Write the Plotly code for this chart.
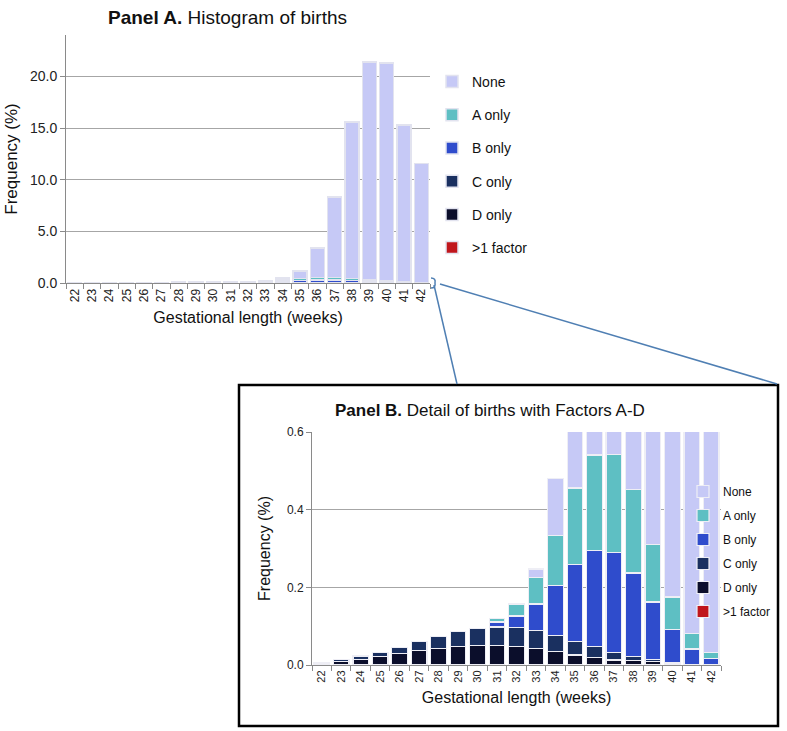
import plotly.graph_objects as go

weeks = [str(w) for w in range(22, 43)]

# Frequency (%) of births by gestational week, split by risk factor
none_vals = [0, 0, 0, 0, 0, 0, 0, 0, 0, 0, 0, 0.021, 0.147, 0.70, 2.87, 7.79, 15.15, 21.09, 21.13, 15.19, 11.51]
a_only = [0, 0, 0, 0, 0, 0, 0, 0, 0, 0.009, 0.031, 0.069, 0.130, 0.198, 0.247, 0.253, 0.215, 0.149, 0.083, 0.040, 0.017]
b_only = [0, 0, 0, 0, 0, 0, 0, 0, 0, 0.013, 0.030, 0.069, 0.129, 0.198, 0.247, 0.257, 0.215, 0.147, 0.085, 0.039, 0.014]
c_only = [0.002, 0.005, 0.008, 0.012, 0.016, 0.023, 0.031, 0.039, 0.043, 0.048, 0.049, 0.045, 0.041, 0.034, 0.027, 0.019, 0.011, 0.007, 0.003, 0.001, 0.001]
d_only = [0.003, 0.010, 0.015, 0.021, 0.030, 0.038, 0.043, 0.047, 0.049, 0.048, 0.045, 0.041, 0.032, 0.024, 0.019, 0.012, 0.010, 0.007, 0.004, 0.001, 0.001]
multi = [0, 0, 0, 0, 0, 0, 0, 0.001, 0.002, 0.002, 0.002, 0.002, 0.002, 0.002, 0.001, 0.001, 0.001, 0.001, 0, 0, 0]

# stacking order bottom -> top, with legend rank (None listed first)
series = [
    (">1 factor", multi, "#c0161c", 6),
    ("D only", d_only, "#0b0e2b", 5),
    ("C only", c_only, "#1a3060", 4),
    ("B only", b_only, "#2f4ccc", 3),
    ("A only", a_only, "#5ebfc3", 2),
    ("None", none_vals, "#c6c9f6", 1),
]

FONT = "Arial, 'Liberation Sans', sans-serif"
fig = go.Figure()

for name, vals, col, rank in series:
    fig.add_trace(go.Bar(
        x=weeks, y=vals, name=name, marker_color=col,
        marker_line=dict(color="#e2e3ef", width=1.5),
        xaxis="x", yaxis="y", legend="legend", legendgroup="a_" + name, legendrank=rank,
    ))
for name, vals, col, rank in series:
    fig.add_trace(go.Bar(
        x=weeks, y=vals, name=name, marker_color=col,
        marker_line=dict(color="#eeeef5", width=1.2),
        xaxis="x2", yaxis="y2", legend="legend2", legendgroup="b_" + name, legendrank=rank,
    ))

W, H = 787, 731
def px(x): return x / W
def py(y): return 1 - y / H

fig.update_layout(
    width=W, height=H,
    margin=dict(l=0, r=0, t=0, b=0),
    paper_bgcolor="white", plot_bgcolor="white",
    barmode="stack", bargap=0.2,
    font=dict(family=FONT, color="#111"),
    xaxis=dict(
        domain=[px(66), px(430)], anchor="y", type="category", automargin=False,
        tickangle=-90, ticks="outside", tickson="boundaries", ticklen=5,
        tickcolor="#8a8a8a", tickfont=dict(size=12, family=FONT, color="#222"),
        showline=True, linecolor="#8a8a8a", showgrid=False,
        title=dict(text="Gestational length (weeks)", font=dict(size=16, family=FONT), standoff=10),
    ),
    yaxis=dict(
        domain=[py(283), py(35)], anchor="x", range=[0, 24], automargin=False,
        tickvals=[0, 5, 10, 15, 20], tickformat=".1f",
        showgrid=True, gridcolor="#a6a6a6", gridwidth=1, zeroline=False,
        showline=True, linecolor="#8a8a8a", ticks="outside", ticklen=5, tickcolor="#8a8a8a",
        tickfont=dict(size=14, family=FONT, color="#222"),
        title=dict(text="Frequency (%)", font=dict(size=17, family=FONT), standoff=8),
    ),
    xaxis2=dict(
        domain=[px(312), px(721)], anchor="y2", type="category", automargin=False,
        tickangle=-90, ticks="outside", tickson="boundaries", ticklen=5,
        tickcolor="#8a8a8a", tickfont=dict(size=11, family=FONT, color="#222"),
        showline=True, linecolor="#8a8a8a", showgrid=False,
        title=dict(text="Gestational length (weeks)", font=dict(size=16, family=FONT), standoff=10),
    ),
    yaxis2=dict(
        domain=[py(665), py(432)], anchor="x2", range=[0, 0.6], automargin=False,
        tickvals=[0, 0.2, 0.4, 0.6], tickformat=".1f",
        showgrid=True, gridcolor="#a6a6a6", gridwidth=1, zeroline=False,
        showline=True, linecolor="#8a8a8a", ticks="outside", ticklen=5, tickcolor="#8a8a8a",
        tickfont=dict(size=12, family=FONT, color="#222"),
        title=dict(text="Frequency (%)", font=dict(size=16, family=FONT), standoff=12),
    ),
    legend=dict(
        x=px(432), y=py(66), xanchor="left", yanchor="top",
        traceorder="grouped", tracegroupgap=12,
        font=dict(size=14, family=FONT), bgcolor="rgba(0,0,0,0)",
        itemwidth=30,
    ),
    legend2=dict(
        x=px(683), y=py(477), xanchor="left", yanchor="top",
        traceorder="grouped", tracegroupgap=5,
        font=dict(size=12, family=FONT), bgcolor="rgba(0,0,0,0)",
        itemwidth=30,
    ),
    annotations=[
        dict(text="<b>Panel A.</b> Histogram of births", x=px(227), y=py(18),
             xref="paper", yref="paper", showarrow=False, xanchor="center", yanchor="middle",
             font=dict(size=19, family=FONT, color="#111")),
        dict(text="<b>Panel B.</b> Detail of births with Factors A-D", x=px(490), y=py(410),
             xref="paper", yref="paper", showarrow=False, xanchor="center", yanchor="middle",
             font=dict(size=17, family=FONT, color="#111")),
    ],
    shapes=[
        dict(type="rect", xref="paper", yref="paper",
             x0=px(239), x1=px(778), y0=py(726), y1=py(385),
             line=dict(color="black", width=2.5)),
        dict(type="line", xref="paper", yref="paper",
             x0=px(434), y0=py(285), x1=px(457), y1=py(384),
             line=dict(color="#4f7fb3", width=1.5)),
        dict(type="line", xref="paper", yref="paper",
             x0=px(440), y0=py(284), x1=px(777), y1=py(384),
             line=dict(color="#4f7fb3", width=1.5)),
        dict(type="path", xref="paper", yref="paper",
             path=f"M {px(431)},{py(278)} Q {px(436)},{py(278)} {px(435)},{py(283)} Q {px(436)},{py(288)} {px(431)},{py(288)}",
             line=dict(color="#4f7fb3", width=1.5)),
    ],
)

fig.write_html(
    "out.html",
    config={"displayModeBar": False},
    post_script="document.body.style.margin='0';document.body.style.overflow='hidden';",
)
